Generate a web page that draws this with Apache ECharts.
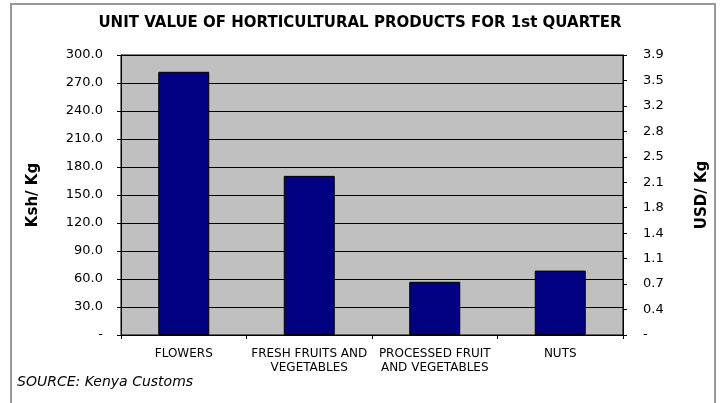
<!DOCTYPE html>
<html>
<head>
<meta charset="utf-8">
<script src="https://cdn.jsdelivr.net/npm/echarts@6/dist/echarts.min.js"></script>
<style>
html,body{margin:0;padding:0;background:#fff;}
#chart{width:720px;height:403px;}
</style>
</head>
<body>
<div id="chart"></div>
<script>
var categories = ['FLOWERS', 'FRESH FRUITS AND\nVEGETABLES', 'PROCESSED FRUIT\nAND VEGETABLES', 'NUTS'];
var kshPerKg = [282, 170.5, 57, 69];
var leftTickLabels = ['-', '30.0', '60.0', '90.0', '120.0', '150.0', '180.0', '210.0', '240.0', '270.0', '300.0'];
var rightTickLabels = ['-', '0.4', '0.7', '1.1', '1.4', '1.8', '2.1', '2.5', '2.8', '3.2', '3.5', '3.9'];

var chart = echarts.init(document.getElementById('chart'), null, {renderer: 'canvas'});
var font = 'DejaVu Sans, Verdana, sans-serif';
chart.setOption({
  animation: false,
  backgroundColor: '#fff',
  title: {
    text: 'UNIT VALUE OF HORTICULTURAL PRODUCTS FOR 1st QUARTER',
    left: 'center', top: 11,
    textStyle: {fontFamily: font, fontSize: 15, fontWeight: 'bold', color: '#000'}
  },
  graphic: [
    {type: 'rect', shape: {x: 11, y: 4, width: 704, height: 420}, style: {fill: 'none', stroke: '#999', lineWidth: 2}, silent: true},
    {type: 'text', left: 17, top: 375, style: {text: 'SOURCE: Kenya Customs', fontFamily: font, fontSize: 14, fontStyle: 'italic', fill: '#000'}}
  ],
  grid: {left: 121, right: 97, top: 55, bottom: 68, show: true, backgroundColor: '#C0C0C0', borderColor: '#000', borderWidth: 1},
  xAxis: {
    type: 'category', data: categories,
    axisLine: {lineStyle: {color: '#000', width: 1}},
    axisTick: {show: true, length: 4, lineStyle: {color: '#000'}},
    axisLabel: {fontFamily: font, fontSize: 12, color: '#000', interval: 0, lineHeight: 14, margin: 12}
  },
  yAxis: [
    {
      type: 'value', min: 0, max: 300, interval: 30, position: 'left',
      name: 'Ksh/ Kg', nameLocation: 'middle', nameGap: 80,
      nameTextStyle: {fontFamily: font, fontSize: 15, fontWeight: 'bold', color: '#000'},
      axisLine: {show: true, lineStyle: {color: '#000'}},
      axisTick: {show: true, length: 4, lineStyle: {color: '#000'}},
      axisLabel: {fontFamily: font, fontSize: 13, color: '#000', margin: 18,
        formatter: function (v) { return leftTickLabels[Math.round(v / 30)]; }},
      splitLine: {show: true, lineStyle: {color: '#000', width: 1}}
    },
    {
      type: 'value', min: 0, max: 11, interval: 1, position: 'right',
      name: 'USD/ Kg', nameLocation: 'middle', nameGap: 72,
      nameTextStyle: {fontFamily: font, fontSize: 15, fontWeight: 'bold', color: '#000'},
      axisLine: {show: true, lineStyle: {color: '#000'}},
      axisTick: {show: true, length: 4, lineStyle: {color: '#000'}},
      axisLabel: {fontFamily: font, fontSize: 13, color: '#000', margin: 20,
        formatter: function (v) { return rightTickLabels[Math.round(v)]; }},
      splitLine: {show: false}
    }
  ],
  series: [{
    type: 'bar', data: kshPerKg, yAxisIndex: 0, barWidth: 51,
    itemStyle: {color: '#000080', borderColor: '#000', borderWidth: 1}
  }]
});
</script>
</body>
</html>
